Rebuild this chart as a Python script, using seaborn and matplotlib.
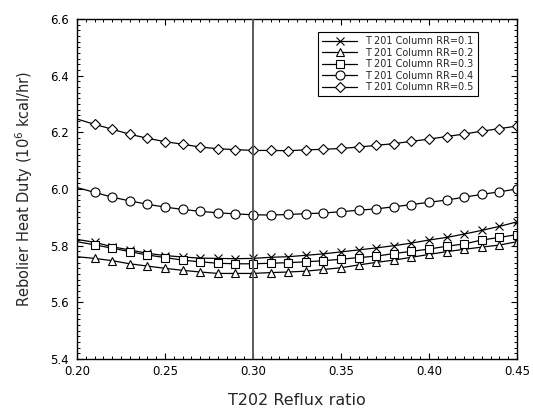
import numpy as np
import pandas as pd
import seaborn as sns
import matplotlib
matplotlib.use("Agg")
import matplotlib.pyplot as plt
from matplotlib.ticker import MultipleLocator

x_vals = [0.20, 0.21, 0.22, 0.23, 0.24, 0.25, 0.26, 0.27, 0.28, 0.29, 0.30,
          0.31, 0.32, 0.33, 0.34, 0.35, 0.36, 0.37, 0.38, 0.39, 0.40,
          0.41, 0.42, 0.43, 0.44, 0.45]

rr01 = [5.822, 5.812, 5.796, 5.785, 5.773, 5.765, 5.760, 5.756, 5.755, 5.754, 5.755,
        5.759, 5.761, 5.766, 5.771, 5.778, 5.785, 5.792, 5.800, 5.809, 5.820,
        5.829, 5.841, 5.854, 5.868, 5.884]
rr02 = [5.761, 5.755, 5.747, 5.736, 5.728, 5.720, 5.713, 5.707, 5.702, 5.702, 5.702,
        5.705, 5.707, 5.710, 5.716, 5.722, 5.732, 5.741, 5.749, 5.759, 5.769,
        5.779, 5.787, 5.795, 5.802, 5.814]
rr03 = [5.814, 5.803, 5.791, 5.779, 5.767, 5.758, 5.749, 5.743, 5.738, 5.736, 5.736,
        5.738, 5.740, 5.743, 5.747, 5.752, 5.758, 5.763, 5.772, 5.780, 5.788,
        5.798, 5.806, 5.820, 5.829, 5.839]
rr04 = [6.005, 5.988, 5.971, 5.958, 5.946, 5.936, 5.928, 5.921, 5.916, 5.912, 5.909,
        5.908, 5.910, 5.913, 5.915, 5.920, 5.925, 5.930, 5.937, 5.945, 5.953,
        5.961, 5.971, 5.981, 5.990, 6.000]
rr05 = [6.247, 6.228, 6.211, 6.193, 6.179, 6.167, 6.158, 6.148, 6.142, 6.139, 6.136,
        6.136, 6.135, 6.138, 6.140, 6.143, 6.148, 6.154, 6.160, 6.168, 6.176,
        6.185, 6.194, 6.204, 6.213, 6.222]

series_labels = ["T 201 Column RR=0.1", "T 201 Column RR=0.2", "T 201 Column RR=0.3",
                 "T 201 Column RR=0.4", "T 201 Column RR=0.5"]
series_values = [rr01, rr02, rr03, rr04, rr05]
series_markers = ["x", "^", "s", "o", "D"]
marker_sizes = [6, 6, 5.5, 6.5, 5.5]

x_ticks = [0.20, 0.25, 0.30, 0.35, 0.40, 0.45]
y_ticks = [5.4, 5.6, 5.8, 6.0, 6.2, 6.4, 6.6]

sns.set_style("white")
plt.rcParams['font.family'] = ['DejaVu Sans']

fig = plt.figure(figsize=(5.33, 4.12), dpi=100)
ax = fig.add_axes([0.1445, 0.1286, 0.8255, 0.8254])

for lab, vals, mk, ms in zip(series_labels, series_values, series_markers, marker_sizes):
    df = pd.DataFrame({"x": x_vals, "y": vals})
    sns.lineplot(data=df, x="x", y="y", ax=ax, color="black", linewidth=0.9,
                 marker=mk, markersize=ms, markerfacecolor="white",
                 markeredgecolor="black", markeredgewidth=0.8,
                 markevery=list(range(1, len(x_vals))), label=lab)

ax.axvline(0.30, color="#5a5a5a", linewidth=1.4, zorder=4)

ax.set_xlim(0.20, 0.45)
ax.set_ylim(5.4, 6.6)
ax.set_xticks(x_ticks)
ax.set_yticks(y_ticks)
ax.set_xticklabels([f"{v:.2f}" for v in x_ticks])
ax.set_yticklabels([f"{v:.1f}" for v in y_ticks])
ax.xaxis.set_minor_locator(MultipleLocator(0.005))
ax.yaxis.set_minor_locator(MultipleLocator(0.02))
ax.tick_params(which="both", direction="in", top=True, right=True,
               bottom=True, left=True, colors="black", labelsize=8.5)
ax.tick_params(which="major", length=4, width=0.8)
ax.tick_params(which="minor", length=2.5, width=0.7)
ax.tick_params(axis="y", pad=6)
ax.tick_params(axis="x", pad=4)

for sp in ax.spines.values():
    sp.set_visible(True)
    sp.set_color("black")
    sp.set_linewidth(1.0)

ax.set_xlabel("T202 Reflux ratio", fontsize=11.5, labelpad=11)
ax.set_ylabel("Rebolier Heat Duty (10$^6$ kcal/hr)", fontsize=10.5, labelpad=11)

leg = ax.legend(loc="upper right", bbox_to_anchor=(0.911, 0.962), fontsize=7,
                frameon=True, fancybox=False, edgecolor="black", framealpha=1,
                handlelength=3.6, labelspacing=0.15, borderpad=0.45,
                handletextpad=0.8, borderaxespad=0)
leg.get_frame().set_linewidth(0.8)

fig.savefig("out.png", dpi=100)
